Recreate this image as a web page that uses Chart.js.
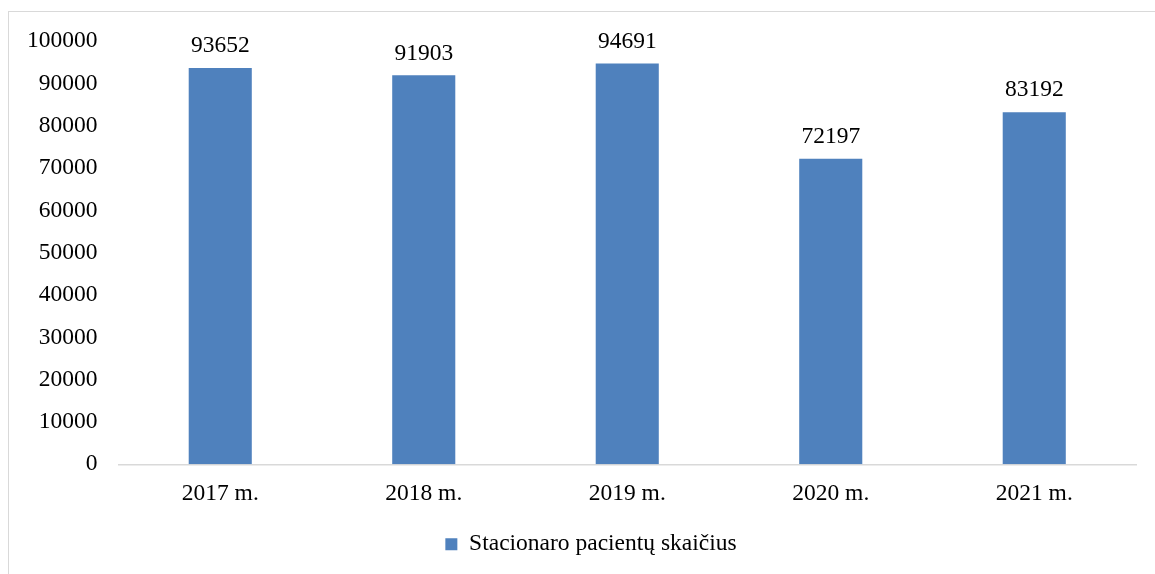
<!DOCTYPE html>
<html>
<head>
<meta charset="utf-8">
<script src="https://cdn.jsdelivr.net/npm/chart.js@4.4.1/dist/chart.umd.min.js"></script>
<style>
  html, body { margin: 0; padding: 0; background: #fff; overflow: hidden; width: 1155px; height: 574px; }
  #frame { position: absolute; left: 8px; top: 11px; width: 1189px; height: 600px; border: 1px solid #d9d9d9; box-sizing: border-box; }
  #wrap { position: absolute; left: -3px; top: -6px; width: 1189px; height: 569px; }
</style>
</head>
<body>
<div id="frame"><div id="wrap"><canvas id="c"></canvas></div></div>
<script>
const categories = ["2017 m.", "2018 m.", "2019 m.", "2020 m.", "2021 m."];
const patients = [93652, 91903, 94691, 72197, 83192];
const seriesName = "Stacionaro pacientų skaičius";
const yMax = 100000;
const yStep = 10000;

const FONT = "'Liberation Serif', 'Times New Roman', serif";
const FS = 23.5;

const valueLabels = {
  id: 'valueLabels',
  afterDatasetsDraw(chart) {
    const ctx = chart.ctx;
    const meta = chart.getDatasetMeta(0);
    ctx.save();
    ctx.font = FS + "px " + FONT;
    ctx.fillStyle = '#000';
    ctx.textAlign = 'center';
    ctx.textBaseline = 'middle';
    meta.data.forEach((bar, i) => {
      ctx.fillText(String(chart.data.datasets[0].data[i]), bar.x, bar.y - 22);
    });
    ctx.restore();
  }
};

const legendShift = {
  id: 'legendShift',
  afterLayout(chart) {
    if (chart.legend) {
      chart.legend.left += 20;
      chart.legend.right += 20;
    }
  }
};

new Chart(document.getElementById('c'), {
  type: 'bar',
  data: {
    labels: categories,
    datasets: [{
      label: seriesName,
      data: patients,
      backgroundColor: '#4F81BD',
      borderWidth: 0,
      categoryPercentage: 1,
      barPercentage: 0.31
    }]
  },
  options: {
    responsive: true,
    maintainAspectRatio: false,
    animation: false,
    events: [],
    layout: { padding: { top: 19, left: 0, right: 59, bottom: 9 } },
    plugins: {
      tooltip: { enabled: false },
      legend: {
        position: 'bottom',
        labels: {
          color: '#000',
          boxWidth: 12,
          boxHeight: 12,
          padding: 10,
          font: { family: FONT, size: FS }
        }
      }
    },
    scales: {
      x: {
        grid: { display: false, drawTicks: false },
        border: { display: true, color: '#d9d9d9', width: 1.5 },
        ticks: { color: '#000', padding: 15, font: { family: FONT, size: FS } }
      },
      y: {
        min: 0,
        max: yMax,
        grid: { display: false, drawTicks: false },
        border: { display: false },
        ticks: { stepSize: yStep, color: '#000', padding: 21, font: { family: FONT, size: FS },
                 callback: (v) => String(v) }
      }
    }
  },
  plugins: [valueLabels, legendShift]
});
</script>
</body>
</html>
